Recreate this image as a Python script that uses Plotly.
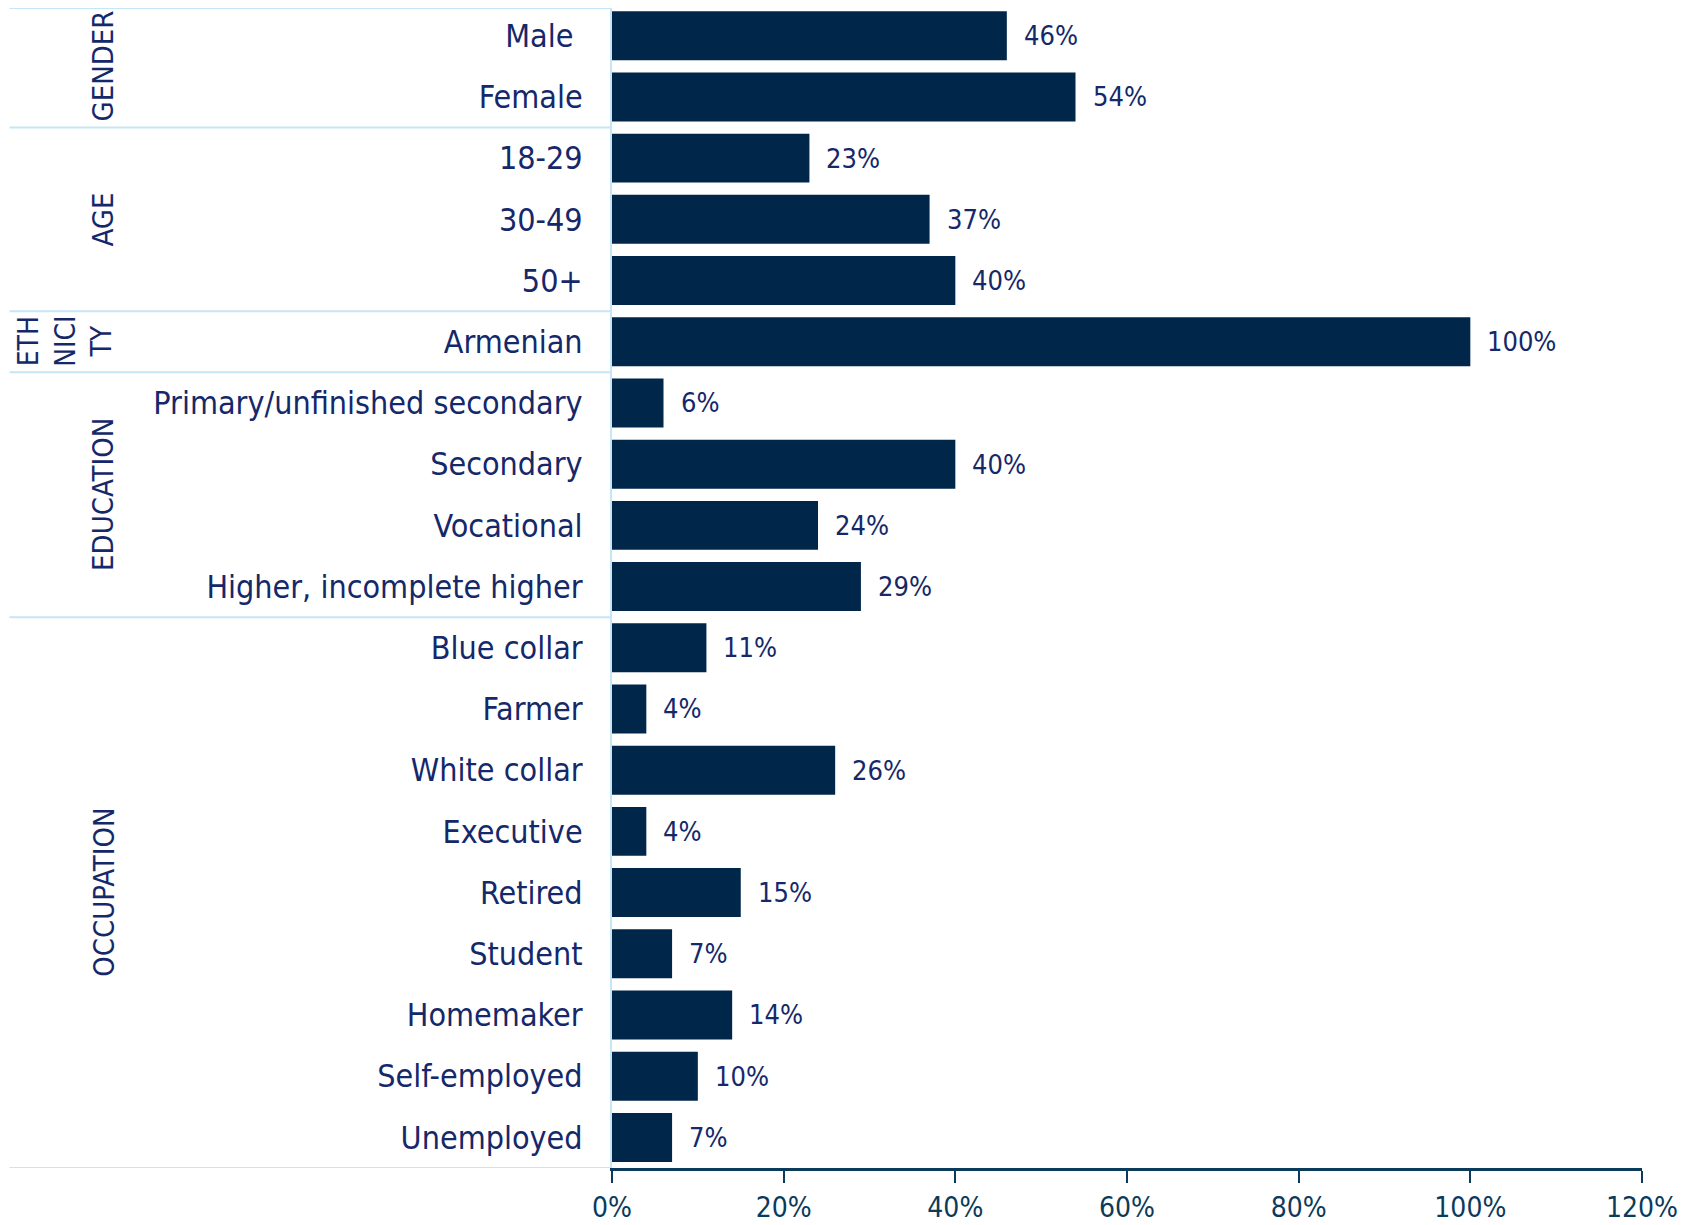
import plotly.graph_objects as go

categories = ["Male\u00a0", "Female", "18-29", "30-49", "50+", "Armenian",
              "Primary/unfinished secondary", "Secondary", "Vocational",
              "Higher, incomplete higher", "Blue collar", "Farmer", "White collar",
              "Executive", "Retired", "Student", "Homemaker", "Self-employed", "Unemployed"]
values = [46, 54, 23, 37, 40, 100, 6, 40, 24, 29, 11, 4, 26, 4, 15, 7, 14, 10, 7]
value_labels = [f"{v}%" for v in values]

groups = ["GENDER", "AGE", "ETH<br>NICI<br>TY", "EDUCATION", "OCCUPATION"]
group_sizes = [2, 3, 1, 4, 9]

tick_vals = [0, 20, 40, 60, 80, 100, 120]
tick_text = ["0%", "20%", "40%", "60%", "80%", "100%", "120%"]

FONT = "DejaVu Sans Condensed"
NAVY = "#00274a"
TEXT = "#14286a"
LIGHT = "#c6e6f8"
AXIS = "#0b3b5b"

fig = go.Figure()
fig.add_trace(go.Bar(
    x=values, y=categories, orientation="h",
    marker=dict(color=NAVY, line=dict(width=0)),
    hoverinfo="skip",
))

annotations = []
for c, v, t in zip(categories, values, value_labels):
    annotations.append(dict(x=v, y=c, xref="x", yref="y", text=t, showarrow=False,
                            xanchor="left", xshift=15,
                            font=dict(family=FONT, size=27, color=TEXT)))

shapes = []
LEFT = -0.585
start = 0
for i, (g, n) in enumerate(zip(groups, group_sizes)):
    center = start + (n - 1) / 2
    if g.startswith("ETH"):
        annotations.append(dict(x=-0.531, y=center, xref="paper", yref="y", text=g,
                                showarrow=False, textangle=-90, align="center",
                                xanchor="center", yanchor="middle",
                                font=dict(family=FONT, size=28, color=TEXT)))
    else:
        annotations.append(dict(x=-0.494, y=center, xref="paper", yref="y", text=g,
                                showarrow=False, textangle=-90,
                                xanchor="center", yanchor="middle",
                                font=dict(family=FONT, size=29, color=TEXT)))
    if i == 0:
        shapes.append(dict(type="line", xref="paper", yref="paper", x0=LEFT, x1=0,
                           y0=1, y1=1, line=dict(color=LIGHT, width=2)))
    else:
        shapes.append(dict(type="line", xref="paper", yref="y", x0=LEFT, x1=0,
                           y0=start - 0.5, y1=start - 0.5, line=dict(color=LIGHT, width=2)))
    start += n
shapes.append(dict(type="line", xref="paper", yref="y", x0=LEFT, x1=0,
                   y0=start - 0.5, y1=start - 0.5, line=dict(color=LIGHT, width=2)))

fig.update_layout(
    width=1698, height=1225,
    margin=dict(l=604, r=64, t=0, b=65),
    paper_bgcolor="white", plot_bgcolor="white",
    showlegend=False, bargap=0.2,
    annotations=annotations, shapes=shapes,
    xaxis=dict(range=[0, 120], tickvals=tick_vals, ticktext=tick_text,
               showgrid=False, zeroline=False, showline=True, linecolor=AXIS, linewidth=3,
               ticks="outside", ticklen=12, tickcolor=AXIS, tickwidth=2,
               tickfont=dict(family=FONT, size=28, color=AXIS)),
    yaxis=dict(range=[18.5, -0.453], showgrid=False, zeroline=False,
               showline=True, linecolor=LIGHT, linewidth=2, ticks="",
               ticklabelstandoff=21,
               tickfont=dict(family=FONT, size=32, color=TEXT)),
)
fig.write_html("out.html")
